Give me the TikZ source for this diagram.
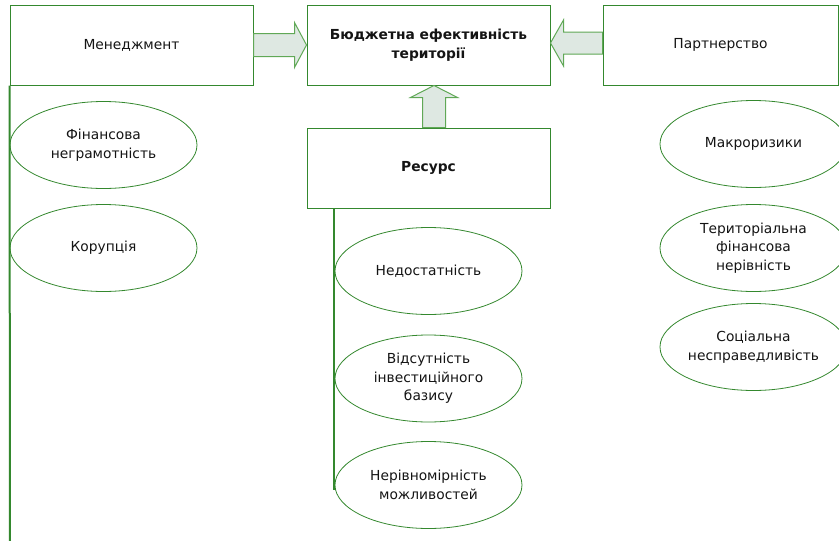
\documentclass[tikz,border=0pt]{standalone}
\usepackage{fontspec}
\setmainfont{DejaVu Sans}
\usetikzlibrary{shapes.geometric,calc}
\definecolor{boxgreen}{RGB}{52,136,46}
\definecolor{arrowgreen}{RGB}{96,168,86}
\definecolor{arrowfill}{RGB}{222,232,226}
\definecolor{txtgray}{RGB}{20,20,20}

\begin{document}
\begin{tikzpicture}[x=1pt,y=-1pt,
  box/.style={draw=boxgreen,line width=1pt,rectangle,minimum width=243pt,minimum height=80pt,inner sep=0pt,align=center},
  risk/.style={draw=boxgreen,line width=0.8pt,ellipse,minimum width=187pt,minimum height=87pt,inner sep=0pt,align=center},
  blockarrow/.style={draw=arrowgreen,fill=arrowfill,line width=1pt,line join=miter},
  branch/.style={draw=boxgreen,line width=2pt}]
\tikzstyle{every node}+=[font=\fontsize{13.8}{18.5}\selectfont,text=txtgray]
\clip (0,0) rectangle (839,541);
% top row
\node[box] (men) at (131.5,45) {Менеджмент};
\node[box] (top) at (428.5,45) {\textbf{Бюджетна ефективність}\\\textbf{території}};
\node[box,minimum width=235pt] (part) at (720.5,45) {Партнерство};
\node[box] (res) at (428.5,168) {\textbf{Ресурс}};
% branch lines
\coordinate (menend) at (10,541);
\coordinate (resend) at (334,490);
\draw[branch] (men.south west) -- (menend);
\draw[branch] (res.south west -| resend) -- (resend);
% risks
\node[risk] (fin) at (103.5,145) {Фінансова\\неграмотність};
\node[risk] (kor) at (103.5,248) {Корупція};
\node[risk] (ned) at (428.5,271) {Недостатність};
\node[risk] (vid) at (428.5,378.5) {Відсутність\\інвестиційного\\базису};
\node[risk] (ner) at (428.5,485) {Нерівномірність\\можливостей};
\node[risk] (mak) at (753.5,144) {Макроризики};
\node[risk] (ter) at (753.5,248) {Територіальна\\фінансова\\нерівність};
\node[risk] (soc) at (753.5,347) {Соціальна\\несправедливість};
% block arrows
\draw[blockarrow] ($(men.east)+(0,-11.5)$) -- ($(top.west)+(-12,-11.5)$) -- ($(top.west)+(-12,-22.5)$) -- (top.west) -- ($(top.west)+(-12,22.5)$) -- ($(top.west)+(-12,11.5)$) -- ($(men.east)+(0,11.5)$) -- cycle;
\coordinate (ptip) at ($(top.east)+(0,-2)$);
\coordinate (pbase) at ($(part.west)+(0,-2)$);
\draw[blockarrow] ($(pbase)+(0,-11)$) -- ($(ptip)+(13,-11)$) -- ($(ptip)+(13,-23)$) -- (ptip) -- ($(ptip)+(13,23)$) -- ($(ptip)+(13,11)$) -- ($(pbase)+(0,11)$) -- cycle;
\coordinate (rtip) at ($(top.south)+(5.5,0)$);
\coordinate (rbase) at ($(res.north)+(5.5,0)$);
\draw[blockarrow] ($(rbase)+(-11.5,0)$) -- ($(rtip)+(-11.5,12)$) -- ($(rtip)+(-23.5,12)$) -- (rtip) -- ($(rtip)+(23.5,12)$) -- ($(rtip)+(11.5,12)$) -- ($(rbase)+(11.5,0)$) -- cycle;
\end{tikzpicture}
\end{document}
